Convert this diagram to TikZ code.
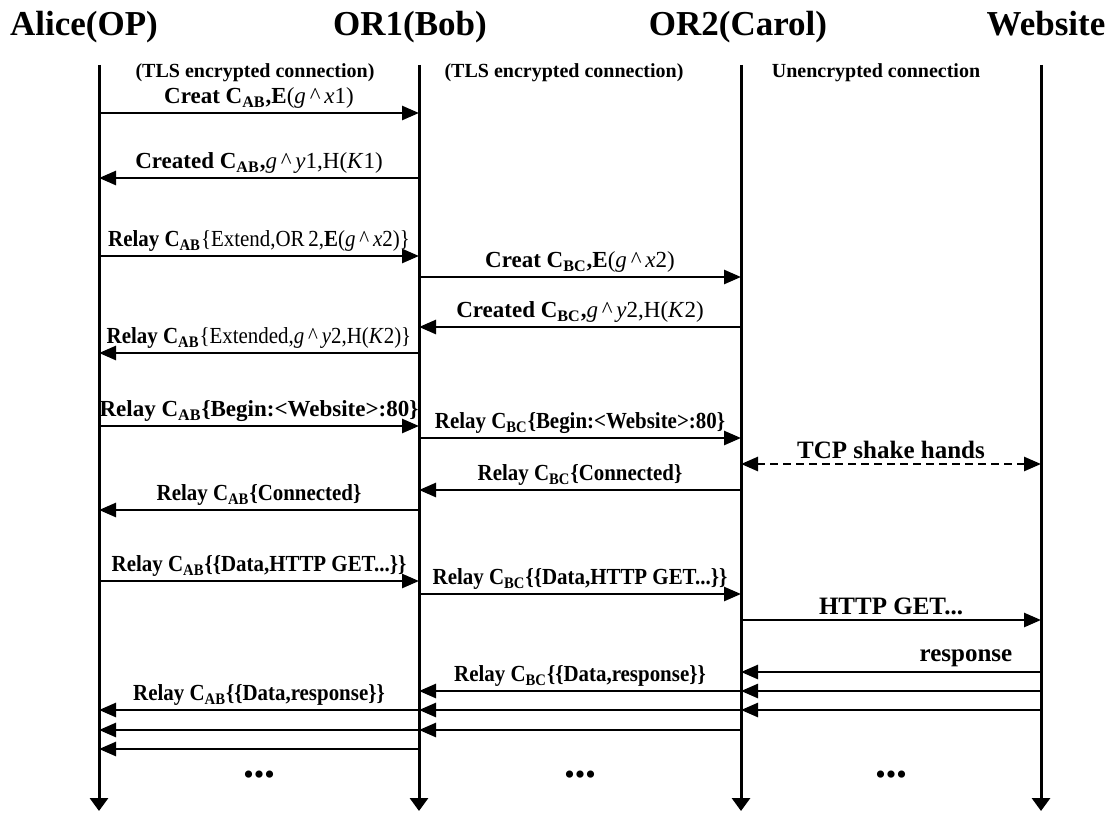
\documentclass[tikz,border=0pt]{standalone}
\usepackage{fontspec}
\setmainfont{Liberation Serif}
\newfontfamily\narrowserif[FakeStretch=0.91]{Liberation Serif}
\usetikzlibrary{arrows.meta}
\newcommand{\chan}[1]{C\textsubscript{#1}}
\newcommand{\gexp}[2]{\textit{g}\,\textasciicircum\,\textit{#1}#2}

\begin{document}
\begin{tikzpicture}[x=0.5pt, y=-0.5pt,
  party/.style={anchor=base, inner sep=0pt, font=\fontsize{17.5}{20}\selectfont\bfseries},
  conn/.style={anchor=base, inner sep=0pt, font=\fontsize{10}{12}\selectfont\bfseries},
  life/.style={line width=1.5pt, -{Triangle[length=6.5pt, width=9pt]}},
  msg/.style={line width=1.3pt, -{Triangle[length=8.5pt, width=7pt]}},
  handshake/.style={line width=1.3pt, dash pattern=on 4pt off 2.5pt,
    {Triangle[length=8.5pt, width=7pt]}-{Triangle[length=8.5pt, width=7pt]}},
  lbl/.style={above, inner sep=1.5pt, font=\fontsize{11.5}{13}\selectfont},
  nlbl/.style={lbl, font=\fontsize{11.5}{13}\narrowserif},
  biglbl/.style={above, inner sep=2pt, font=\fontsize{12.5}{14}\selectfont\bfseries},
  dots/.style={font=\fontsize{15}{16}\selectfont},
]
  \useasboundingbox (0,0) rectangle (1117,813);

  \node[party] (alice) at (84,36) {Alice(OP)};
  \node[party] (bob) at (410,36) {OR1(Bob)};
  \node[party] (carol) at (738,36) {OR2(Carol)};
  \node[party] (web) at (1046,36) {Website};

  \coordinate (A) at (99,65);
  \coordinate (B) at (419,65);
  \coordinate (C) at (741,65);
  \coordinate (W) at (1041,65);
  \coordinate (Aend) at (99,811);
  \coordinate (Bend) at (419,811);
  \coordinate (Cend) at (741,811);
  \coordinate (Wend) at (1041,811);

  \draw[life] (A) -- (Aend);
  \draw[life] (B) -- (Bend);
  \draw[life] (C) -- (Cend);
  \draw[life] (W) -- (Wend);

  \node[conn] (tls1) at (255,77) {(TLS encrypted connection)};
  \node[conn] (tls2) at (564,77) {(TLS encrypted connection)};
  \node[conn] (plain) at (876,77) {Unencrypted connection};

  \foreach \n/\y in {1/113, 2/178, 3/256, 4/277, 5/327, 6/353, 7/426, 8/438,
    9/464, 10/490, 11/510, 12/581, 13/594, 14/620, 15/672, 16/691, 17/710,
    18/730, 19/749}
    \coordinate (r\n) at (0,\y);

  \draw[msg] (A |- r1) -- node[lbl] (m1) {\textbf{Creat \chan{AB},E}(\gexp{x}{1})} (B |- r1);
  \draw[msg] (B |- r2) -- node[lbl] (m2) {\textbf{Created \chan{AB},}\gexp{y}{1},H(\textit{K}1)} (A |- r2);
  \draw[msg] (A |- r3) -- node[nlbl] (m3) {\textbf{Relay \chan{AB}}\{Extend,OR\,2,\textbf{E}(\gexp{x}{2})\}} (B |- r3);
  \draw[msg] (B |- r4) -- node[lbl] (m4) {\textbf{Creat \chan{BC},E}(\gexp{x}{2})} (C |- r4);
  \draw[msg] (C |- r5) -- node[lbl] (m5) {\textbf{Created \chan{BC},}\gexp{y}{2},H(\textit{K}2)} (B |- r5);
  \draw[msg] (B |- r6) -- node[nlbl] (m6) {\textbf{Relay \chan{AB}}\{Extended,\gexp{y}{2},H(\textit{K}2)\}} (A |- r6);
  \draw[msg] (A |- r7) -- node[lbl] (m7) {\textbf{Relay \chan{AB}\{Begin:<Website>:80\}}} (B |- r7);
  \draw[msg] (B |- r8) -- node[nlbl] (m8) {\textbf{Relay \chan{BC}\{Begin:<Website>:80\}}} (C |- r8);
  \draw[handshake] (C |- r9) -- node[biglbl] (tcp) {TCP shake hands} (W |- r9);
  \draw[msg] (C |- r10) -- node[nlbl] (m10) {\textbf{Relay \chan{BC}\{Connected\}}} (B |- r10);
  \draw[msg] (B |- r11) -- node[nlbl] (m11) {\textbf{Relay \chan{AB}\{Connected\}}} (A |- r11);
  \draw[msg] (A |- r12) -- node[nlbl] (m12) {\textbf{Relay \chan{AB}\{\{Data,HTTP GET...\}\}}} (B |- r12);
  \draw[msg] (B |- r13) -- node[nlbl] (m13) {\textbf{Relay \chan{BC}\{\{Data,HTTP GET...\}\}}} (C |- r13);
  \draw[msg] (C |- r14) -- node[biglbl] (get) {HTTP GET...} (W |- r14);
  \draw[msg] (W |- r15) -- node[biglbl, pos=0.25] (resp) {response} (C |- r15);
  \draw[msg] (W |- r16) -- (C |- r16);
  \draw[msg] (W |- r17) -- (C |- r17);
  \draw[msg] (C |- r16) -- node[nlbl] (m16) {\textbf{Relay \chan{BC}\{\{Data,response\}\}}} (B |- r16);
  \draw[msg] (C |- r17) -- (B |- r17);
  \draw[msg] (C |- r18) -- (B |- r18);
  \draw[msg] (B |- r17) -- node[nlbl] (m17) {\textbf{Relay \chan{AB}\{\{Data,response\}\}}} (A |- r17);
  \draw[msg] (B |- r18) -- (A |- r18);
  \draw[msg] (B |- r19) -- (A |- r19);

  \node[dots] (d1) at (259,778) {\textbullet\textbullet\textbullet};
  \node[dots] (d2) at (580,778) {\textbullet\textbullet\textbullet};
  \node[dots] (d3) at (891,778) {\textbullet\textbullet\textbullet};
\end{tikzpicture}
\end{document}
